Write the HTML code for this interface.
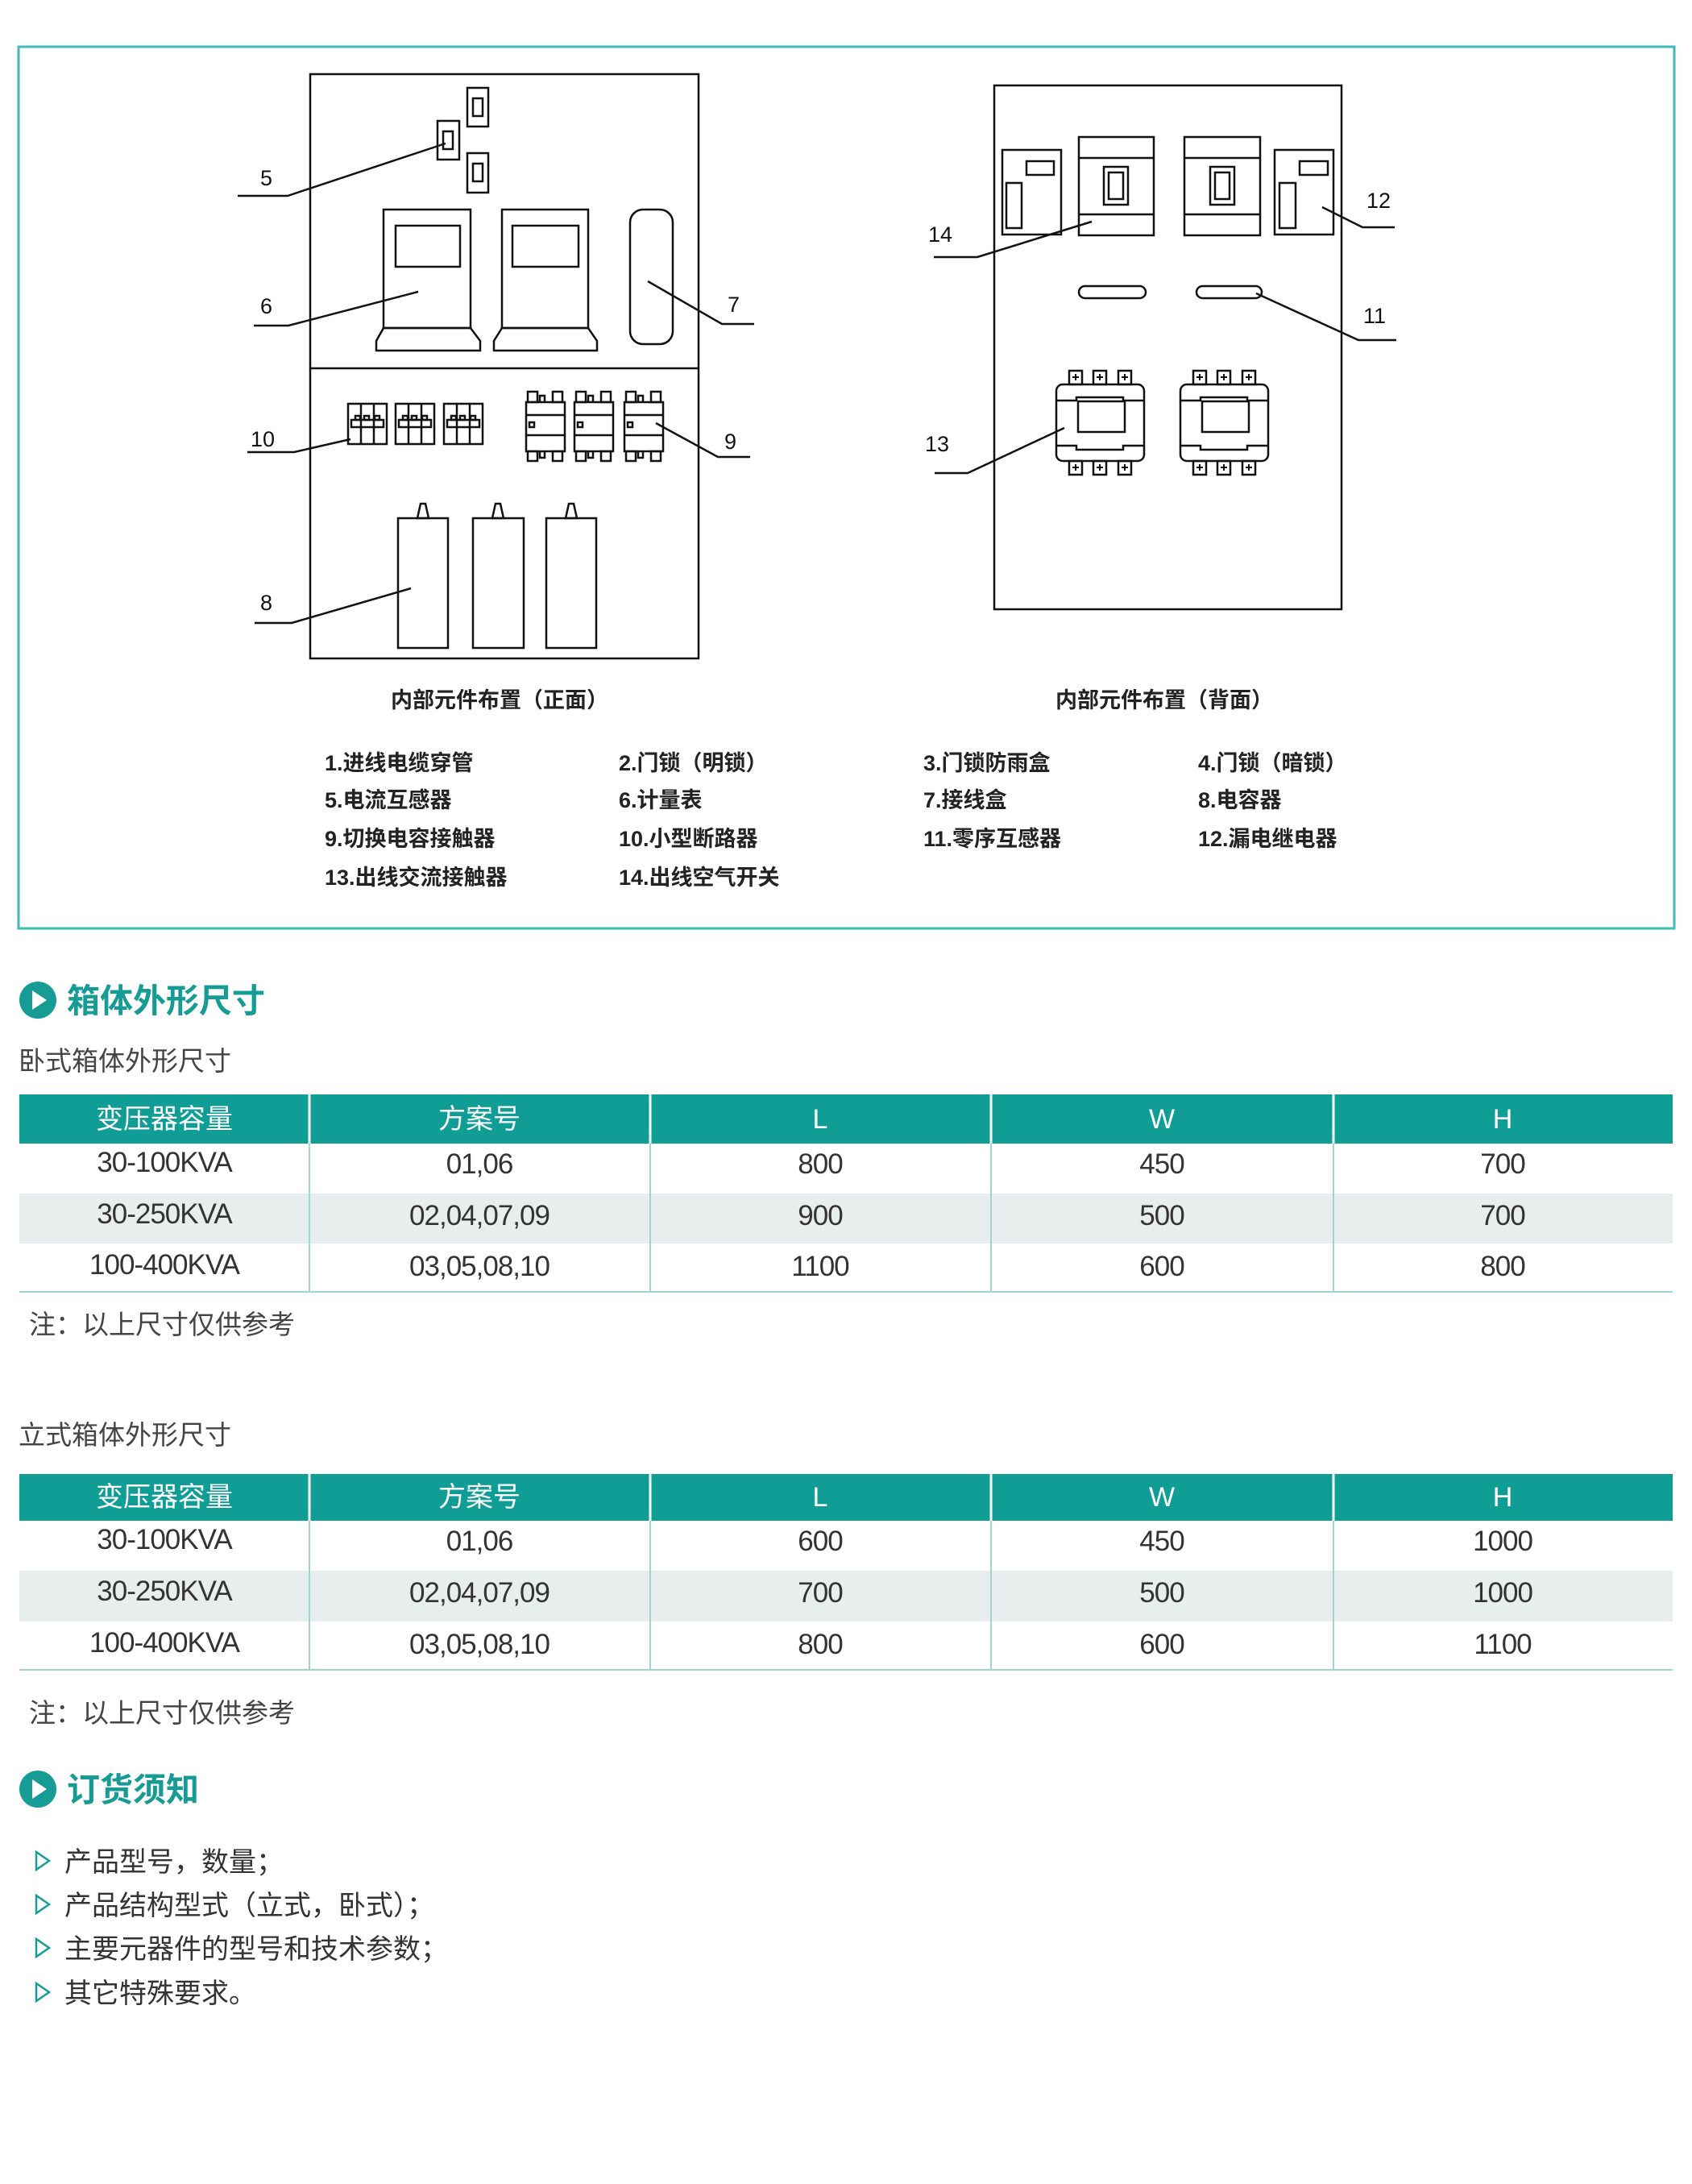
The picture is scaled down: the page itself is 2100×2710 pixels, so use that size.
<!DOCTYPE html>
<html><head><meta charset="utf-8"><style>
html,body{margin:0;padding:0;background:#fff;}
svg{display:block;}
text{font-family:"Liberation Sans","Noto Sans CJK SC",sans-serif;}
</style></head><body>
<svg width="2100" height="2710" viewBox="0 0 2100 2710" xmlns="http://www.w3.org/2000/svg">
<rect x="23" y="58" width="2055" height="1094" fill="none" stroke="#3dbdb5" stroke-width="3"/>
<g fill="none" stroke="#111" stroke-width="2.5">
<rect x="385" y="92" width="482" height="725"/>
<line x1="385" y1="457" x2="867" y2="457"/>
<rect x="580" y="109" width="26" height="48"/><rect x="587" y="122" width="12" height="22"/>
<rect x="543" y="150" width="27" height="48"/><rect x="550" y="163" width="12" height="22"/>
<rect x="580" y="190" width="26" height="49"/><rect x="587" y="203" width="12" height="22"/>
<rect x="476" y="260" width="108" height="147"/><rect x="491" y="280" width="80" height="51"/>
<polygon points="476,407 584,407 596,423 596,435 467,435 467,423"/>
<rect x="623" y="260" width="107" height="147"/><rect x="636" y="280" width="82" height="51"/>
<polygon points="623,407 730,407 741,423 741,435 613,435 613,423"/>
<rect x="782" y="260" width="53" height="167" rx="16"/>
<g id="br"><rect x="432" y="501" width="48" height="50"/><line x1="448" y1="501" x2="448" y2="551"/><line x1="464" y1="501" x2="464" y2="551"/><rect x="436" y="521" width="40" height="9"/><rect x="441" y="516" width="6" height="5"/><rect x="452" y="516" width="6" height="5"/><rect x="465" y="516" width="6" height="5"/></g>
<use href="#br" x="59"/><use href="#br" x="119"/>
<g id="ct"><rect x="653" y="499" width="48" height="61"/><line x1="653" y1="515" x2="701" y2="515"/><line x1="653" y1="540" x2="701" y2="540"/><rect x="657" y="524" width="6" height="6"/>
<rect x="655" y="486" width="12" height="13"/><rect x="686" y="486" width="12" height="13"/><path d="M670 499 v-8 h6 v8"/>
<rect x="655" y="560" width="12" height="12"/><rect x="686" y="560" width="12" height="12"/><path d="M670 560 v8 h6 v-8"/></g>
<use href="#ct" x="60"/><use href="#ct" x="122"/>
<rect x="494" y="643" width="62" height="161"/><polygon points="518,643 532,643 528,625 522,625"/>
<rect x="587" y="643" width="63" height="161"/><polygon points="611,643 625,643 621,625 615,625"/>
<rect x="678" y="643" width="62" height="161"/><polygon points="702,643 716,643 712,625 706,625"/>
<polyline points="295,243 357,243 553,178"/>
<polyline points="315,404 358,404 519,362"/>
<polyline points="936,402 896,402 804,349"/>
<polyline points="307,561 365,561 435,545"/>
<polyline points="931,567 891,567 814,525"/>
<polyline points="316,773 362,773 510,730"/>
<rect x="1234" y="106" width="431" height="650"/>
<rect x="1244" y="186" width="73" height="105"/><rect x="1274" y="200" width="34" height="17"/><rect x="1249" y="227" width="19" height="56"/>
<rect x="1582" y="186" width="73" height="105"/><rect x="1613" y="200" width="35" height="17"/><rect x="1588" y="227" width="20" height="56"/>
<rect x="1339" y="170" width="93" height="122"/><line x1="1339" y1="196" x2="1432" y2="196"/><line x1="1339" y1="266" x2="1432" y2="266"/><rect x="1370" y="207" width="30" height="47"/><rect x="1376" y="214" width="18" height="33"/>
<rect x="1470" y="170" width="94" height="122"/><line x1="1470" y1="196" x2="1564" y2="196"/><line x1="1470" y1="266" x2="1564" y2="266"/><rect x="1502" y="207" width="30" height="47"/><rect x="1508" y="214" width="18" height="33"/>
<rect x="1339" y="355" width="83" height="15" rx="7.5"/>
<rect x="1485" y="355" width="81" height="15" rx="7.5"/>
<g id="k13"><rect x="1311" y="477" width="109" height="95" rx="8"/><path d="M1311 497 h25 v-4 h58 v4 h26"/><path d="M1311 553 h25 v5 h58 v-5 h26"/><rect x="1338" y="498" width="58" height="38"/>
<rect x="1327" y="460" width="16" height="17"/><rect x="1357" y="460" width="16" height="17"/><rect x="1388" y="460" width="16" height="17"/>
<rect x="1327" y="572" width="16" height="17"/><rect x="1357" y="572" width="16" height="17"/><rect x="1388" y="572" width="16" height="17"/>
<path d="M1331 468h8M1335 464v8M1361 468h8M1365 464v8M1392 468h8M1396 464v8M1331 580h8M1335 576v8M1361 580h8M1365 576v8M1392 580h8M1396 576v8" stroke-width="2"/></g>
<use href="#k13" x="154"/>
<polyline points="1159,319 1213,319 1355,275"/>
<polyline points="1731,282 1691,282 1641,257"/>
<polyline points="1733,422 1686,422 1559,364"/>
<polyline points="1160,587 1201,587 1321,531"/>
</g>
<g font-size="27" fill="#111">
<text x="323" y="230">5</text><text x="323" y="389">6</text><text x="903" y="387">7</text>
<text x="311" y="554">10</text><text x="899" y="557">9</text><text x="323" y="757">8</text>
<text x="1152" y="300">14</text><text x="1696" y="258">12</text><text x="1692" y="401">11</text><text x="1148" y="560">13</text>
</g>
<g font-size="27" fill="#222" font-weight="bold">
<text x="620" y="878" text-anchor="middle">内部元件布置（正面）</text>
<text x="1445" y="878" text-anchor="middle">内部元件布置（背面）</text>
<text x="403" y="956">1.进线电缆穿管</text><text x="768" y="956">2.门锁（明锁）</text>
<text x="403" y="1002">5.电流互感器</text><text x="768" y="1002">6.计量表</text>
<text x="403" y="1050">9.切换电容接触器</text><text x="768" y="1050">10.小型断路器</text>
<text x="403" y="1098">13.出线交流接触器</text><text x="768" y="1098">14.出线空气开关</text>
<text x="1146" y="956">3.门锁防雨盒</text><text x="1487" y="956">4.门锁（暗锁）</text>
<text x="1146" y="1002">7.接线盒</text><text x="1487" y="1002">8.电容器</text>
<text x="1146" y="1050">11.零序互感器</text><text x="1487" y="1050">12.漏电继电器</text>
</g>
<circle cx="47" cy="1241" r="23" fill="#169c95"/><polygon points="40,1229 40,1253 58,1241" fill="#fff"/>
<text x="83" y="1256" font-size="41" font-weight="bold" fill="#169c95">箱体外形尺寸</text>
<text x="23" y="1328" font-size="33" fill="#444">卧式箱体外形尺寸</text>
<rect x="24" y="1358" width="2052" height="61" fill="#0f9d96"/>
<rect x="24" y="1481" width="2052" height="62" fill="#e8eeee"/>
<g stroke="#fff" stroke-width="3"><line x1="384" y1="1358" x2="384" y2="1419"/><line x1="807" y1="1358" x2="807" y2="1419"/><line x1="1230" y1="1358" x2="1230" y2="1419"/><line x1="1655" y1="1358" x2="1655" y2="1419"/></g>
<g stroke="#9fd6d2" stroke-width="2"><line x1="384" y1="1419" x2="384" y2="1603"/><line x1="807" y1="1419" x2="807" y2="1603"/><line x1="1230" y1="1419" x2="1230" y2="1603"/><line x1="1655" y1="1419" x2="1655" y2="1603"/><line x1="24" y1="1603" x2="2076" y2="1603"/></g>
<g font-size="34" text-anchor="middle" fill="#fff"><text x="204" y="1400">变压器容量</text><text x="595" y="1400">方案号</text><text x="1018" y="1400">L</text><text x="1442" y="1400">W</text><text x="1865" y="1400">H</text></g>
<g font-size="35" text-anchor="middle" fill="#333" letter-spacing="-1">
<text x="204" y="1454">30-100KVA</text><text x="595" y="1456">01,06</text><text x="1018" y="1456">800</text><text x="1442" y="1456">450</text><text x="1865" y="1456">700</text>
<text x="204" y="1518">30-250KVA</text><text x="595" y="1520">02,04,07,09</text><text x="1018" y="1520">900</text><text x="1442" y="1520">500</text><text x="1865" y="1520">700</text>
<text x="204" y="1581">100-400KVA</text><text x="595" y="1583">03,05,08,10</text><text x="1018" y="1583">1100</text><text x="1442" y="1583">600</text><text x="1865" y="1583">800</text>
</g>
<text x="36" y="1655" font-size="33" fill="#444">注：以上尺寸仅供参考</text>
<text x="23" y="1792" font-size="33" fill="#444">立式箱体外形尺寸</text>
<rect x="24" y="1829" width="2052" height="58" fill="#0f9d96"/>
<rect x="24" y="1949" width="2052" height="63" fill="#e8eeee"/>
<g stroke="#fff" stroke-width="3"><line x1="384" y1="1829" x2="384" y2="1887"/><line x1="807" y1="1829" x2="807" y2="1887"/><line x1="1230" y1="1829" x2="1230" y2="1887"/><line x1="1655" y1="1829" x2="1655" y2="1887"/></g>
<g stroke="#9fd6d2" stroke-width="2"><line x1="384" y1="1887" x2="384" y2="2072"/><line x1="807" y1="1887" x2="807" y2="2072"/><line x1="1230" y1="1887" x2="1230" y2="2072"/><line x1="1655" y1="1887" x2="1655" y2="2072"/><line x1="24" y1="2072" x2="2076" y2="2072"/></g>
<g font-size="34" text-anchor="middle" fill="#fff"><text x="204" y="1869">变压器容量</text><text x="595" y="1869">方案号</text><text x="1018" y="1869">L</text><text x="1442" y="1869">W</text><text x="1865" y="1869">H</text></g>
<g font-size="35" text-anchor="middle" fill="#333" letter-spacing="-1">
<text x="204" y="1922">30-100KVA</text><text x="595" y="1924">01,06</text><text x="1018" y="1924">600</text><text x="1442" y="1924">450</text><text x="1865" y="1924">1000</text>
<text x="204" y="1986">30-250KVA</text><text x="595" y="1988">02,04,07,09</text><text x="1018" y="1988">700</text><text x="1442" y="1988">500</text><text x="1865" y="1988">1000</text>
<text x="204" y="2050">100-400KVA</text><text x="595" y="2052">03,05,08,10</text><text x="1018" y="2052">800</text><text x="1442" y="2052">600</text><text x="1865" y="2052">1100</text>
</g>
<text x="36" y="2137" font-size="33" fill="#444">注：以上尺寸仅供参考</text>
<circle cx="47" cy="2220" r="23" fill="#169c95"/><polygon points="40,2208 40,2232 58,2220" fill="#fff"/>
<text x="83" y="2235" font-size="41" font-weight="bold" fill="#169c95">订货须知</text>
<g fill="none" stroke="#169c95" stroke-width="2.5">
<polygon points="45,2298 45,2320 61,2309"/><polygon points="45,2352 45,2374 61,2363"/><polygon points="45,2406 45,2428 61,2417"/><polygon points="45,2461 45,2483 61,2472"/>
</g>
<g font-size="34" fill="#333">
<text x="80" y="2322">产品型号，数量；</text>
<text x="80" y="2376">产品结构型式（立式，卧式）；</text>
<text x="80" y="2430">主要元器件的型号和技术参数；</text>
<text x="80" y="2485">其它特殊要求。</text>
</g>
</svg>
</body></html>
